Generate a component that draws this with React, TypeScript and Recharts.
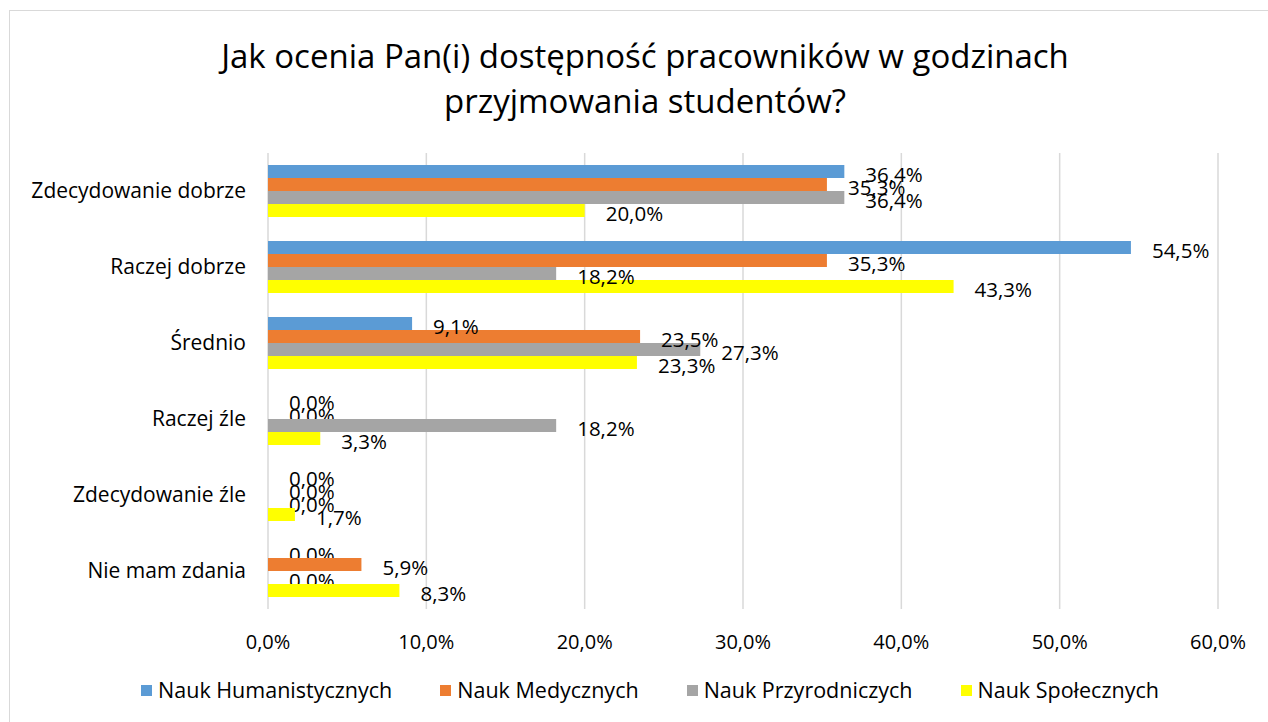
import React from 'react';
import { BarChart, Bar, XAxis, YAxis, CartesianGrid, LabelList } from 'recharts';

const categories = ['Zdecydowanie dobrze', 'Raczej dobrze', 'Średnio', 'Raczej źle', 'Zdecydowanie źle', 'Nie mam zdania'];
const humanistycznych = [0.364, 0.545, 0.091, 0, 0, 0];
const medycznych = [0.353, 0.353, 0.235, 0, 0, 0.059];
const przyrodniczych = [0.364, 0.182, 0.273, 0.182, 0, 0];
const spolecznych = [0.2, 0.433, 0.233, 0.033, 0.017, 0.083];
const xTicks = [0, 0.1, 0.2, 0.3, 0.4, 0.5, 0.6];

const seriesNames = ['Nauk Humanistycznych', 'Nauk Medycznych', 'Nauk Przyrodniczych', 'Nauk Społecznych'];
const seriesKeys = ['h', 'm', 'p', 's'];
const seriesColors = ['#5B9BD5', '#ED7D31', '#A5A5A5', '#FFFF00'];
const title = ['Jak ocenia Pan(i) dostępność pracowników w godzinach', 'przyjmowania studentów?'];

const data = categories.map((c, i) => ({
  name: c,
  h: humanistycznych[i],
  m: medycznych[i],
  p: przyrodniczych[i],
  s: spolecznych[i],
}));

const FONT = '"Open Sans", sans-serif';
const LABEL_SIZE = 20.5;
const fmt = (v: number) => (v * 100).toFixed(1).replace('.', ',') + '%';

const makeShape = (color: string, key: string) => (props: any) => {
  const { x, y, width, height, payload } = props;
  const v = payload ? payload[key] : 0;
  return (
    <g>
      {width > 0 ? <rect x={x} y={y} width={width} height={height} fill={color} /> : null}
      {v === 0 ? (
        <text x={x + 21} y={y + height / 2 + 2} dominantBaseline="central" fontSize={LABEL_SIZE} fill="#000" fontFamily={FONT}>
          {fmt(v)}
        </text>
      ) : null}
    </g>
  );
};

const ValueLabel = (props: any) => {
  const { x, y, width, height, value } = props;
  if (!value) return null;
  return (
    <text x={x + width + 21} y={y + height / 2 + 2} dominantBaseline="central" fontSize={LABEL_SIZE} fill="#000" fontFamily={FONT}>
      {fmt(value)}
    </text>
  );
};

export default function App() {
  return (
    <div style={{ position: 'absolute', left: 0, top: 0, width: 1268, height: 722, background: '#fff', overflow: 'hidden' }}>
      <div style={{ position: 'absolute', left: 9, top: 10, width: 1268, height: 722, border: '1px solid #d9d9d9', boxSizing: 'border-box' }} />
      <div style={{ position: 'absolute', left: 0, top: 33, width: 1290, textAlign: 'center', fontFamily: FONT, fontSize: 33, lineHeight: '45px', color: '#000' }}>
        <div>{title[0]}</div>
        <div>{title[1]}</div>
      </div>
      <div style={{ position: 'absolute', left: 0, top: 0 }}>
        <BarChart
          width={1268}
          height={722}
          data={data}
          layout="vertical"
          margin={{ top: 153, right: 50, left: 0, bottom: 73 }}
          barGap={0}
          barSize={13}
        >
          <CartesianGrid horizontal={false} stroke="#d9d9d9" strokeWidth={1.5} />
          <XAxis
            type="number"
            domain={[0, 0.6]}
            ticks={xTicks}
            tickFormatter={fmt}
            axisLine={false}
            tickLine={false}
            height={40}
            tick={{ fontSize: 20, fill: '#000', fontFamily: FONT, dy: 18 }}
            interval={0}
          />
          <YAxis
            type="category"
            dataKey="name"
            width={268}
            axisLine={false}
            tickLine={false}
            tick={{ fontSize: 21, fill: '#000', fontFamily: FONT, dx: -14 }}
            interval={0}
          />
          {seriesKeys.map((k, i) => (
            <Bar key={k} dataKey={k} name={seriesNames[i]} fill={seriesColors[i]} isAnimationActive={false} shape={makeShape(seriesColors[i], k)}>
              <LabelList dataKey={k} content={ValueLabel} />
            </Bar>
          ))}
        </BarChart>
      </div>
      <div style={{ position: 'absolute', left: 0, top: 675, width: 1300, display: 'flex', justifyContent: 'center', gap: 48, fontFamily: FONT, fontSize: 21.5, color: '#000', lineHeight: '30px' }}>
        {seriesNames.map((n, i) => (
          <div key={n} style={{ display: 'flex', alignItems: 'center' }}>
            <span style={{ width: 11, height: 11, background: seriesColors[i], display: 'inline-block', marginRight: 6 }} />
            <span>{n}</span>
          </div>
        ))}
      </div>
    </div>
  );
}
